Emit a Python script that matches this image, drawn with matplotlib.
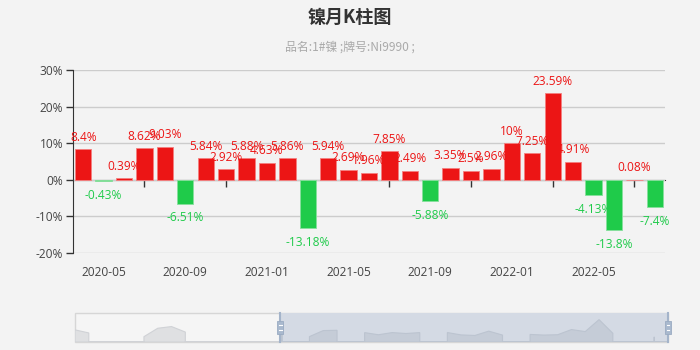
import numpy as np
import pandas as pd
import matplotlib
matplotlib.use('Agg')
import matplotlib.pyplot as plt
from matplotlib.patches import Polygon, Rectangle

plt.rcParams['font.family'] = ['Open Sans', 'Noto Sans CJK SC', 'DejaVu Sans']

# month axis, 2019-01 .. 2022-08
months = list(pd.period_range('2019-01', '2022-08', freq='M').strftime('%Y-%m'))

# rising months before the visible window (only used by the zoom slider shadow)
early_up = [9.6, 5.4, None, None, None, 0.3, 11.8, 14.1, 6.6,
            None, None, None, None, None, None]

# monthly change (%) for the visible window, 2020-04 .. 2022-08
change = [8.4, -0.43, 0.39, 8.62, 9.03, -6.51, 5.84, 2.92, 5.88, 4.63,
          5.86, -13.18, 5.94, 2.69, 1.96, 7.85, 2.49, -5.88, 3.35, 2.5,
          2.96, 10, 7.25, 23.59, 4.91, -4.13, -13.8, 0.08, -7.4]

title = '镍月K柱图'
subtitle = '品名:1#镍 ;牌号:Ni9990 ;'

RED = '#ec1515'
GREEN = '#1fcb4a'
BG = '#f3f3f3'

start = len(early_up)
shown = months[start:]
vals = np.array(change, dtype=float)
x = np.arange(len(vals))
up = vals >= 0

fig = plt.figure(figsize=(7, 3.5), dpi=100, facecolor=BG)
ax = fig.add_axes([73 / 700, 97 / 350, 592 / 700, 183 / 350])
ax.set_facecolor(BG)

ax.bar(x[up], vals[up], width=0.8, color=RED, edgecolor='#f47f7f', linewidth=0.6, zorder=2)
ax.bar(x[~up], vals[~up], width=0.8, color=GREEN, edgecolor='#86e09c', linewidth=0.6, zorder=2)

for xi, v in zip(x, vals):
    if v >= 0:
        ax.annotate(f'{v:g}%', (xi, v), xytext=(0, 4), textcoords='offset points',
                    ha='center', va='bottom', color=RED, fontsize=8.6, zorder=4)
    else:
        ax.annotate(f'{v:g}%', (xi, v), xytext=(0, -5.5), textcoords='offset points',
                    ha='center', va='top', color=GREEN, fontsize=8.6, zorder=4)

ax.set_xlim(-0.5, len(vals) - 0.5)
ax.set_ylim(-20, 30)
ax.set_yticks(range(-20, 31, 10))
ax.set_yticklabels([f'{t}%' for t in range(-20, 31, 10)])
ax.yaxis.grid(True, color='#cccccc', linewidth=1)
ax.set_axisbelow(True)
ax.tick_params(axis='y', length=5, width=1, color='#333333', labelcolor='#444444',
               labelsize=8.6, pad=2)

for s in ['top', 'right', 'bottom']:
    ax.spines[s].set_visible(False)
ax.spines['left'].set_color('#333333')

# month labels at the bottom, every fourth month
lab_pos = x[1::4]
ax.set_xticks(lab_pos)
ax.set_xticklabels([shown[i] for i in lab_pos])
ax.tick_params(axis='x', length=0, labelcolor='#444444', labelsize=8.6, pad=9)

# axis line on zero with its own tick marks
zero_ax = ax.secondary_xaxis(20 / 50)
zero_ax.set_xticks(x[3::4])
zero_ax.tick_params(axis='x', length=5, width=1, color='#333333', labelbottom=False)
zero_ax.spines['bottom'].set_color('#333333')
zero_ax.spines['bottom'].set_zorder(3)

fig.text(0.5, 1 - 17 / 350, title, ha='center', va='center', fontsize=13,
         fontweight='bold', color='#333333', family=['Noto Sans CJK SC'])
fig.text(0.5, 1 - 47 / 350, subtitle, ha='center', va='center', fontsize=8.6,
         color='#aaaaaa', family=['Noto Sans CJK SC', 'Open Sans'])

# zoom slider with data shadow of the rising series
full_up = early_up + [v if v >= 0 else None for v in change]
n = len(full_up)
sax = fig.add_axes([75 / 700, 8 / 350, 593 / 700, 29 / 350])
sax.set_xlim(0, n - 1)
sax.set_ylim(0, 1)
sax.axis('off')


def shadow_points(series):
    known = [v for v in series if v is not None]
    lo, hi = min(known), max(known)
    off = (hi - lo) * 0.3
    lo, hi = lo - off, hi + off
    pts = [(0, 0)]
    last_empty = False
    for i, v in enumerate(series):
        empty = v is None
        y = 0 if empty else (v - lo) / (hi - lo) * 0.95
        if empty and not last_empty and i:
            pts.append((pts[-1][0], 0))
        elif not empty and last_empty:
            pts.append((i, 0))
        pts.append((i, y))
        last_empty = empty
    pts.append((len(series) - 1, 0))
    return pts


pts = shadow_points(full_up)
sel0, sel1 = start - 0.1, n - 1

sax.add_patch(Rectangle((0, 0), n - 1, 1, facecolor='#f5f5f5', edgecolor='#d6d6d6',
                        linewidth=1, zorder=1, clip_on=False))
sax.add_patch(Rectangle((sel0, 0), sel1 - sel0, 1, facecolor='#d4dae4', edgecolor='none',
                        zorder=2, clip_on=False))

clip_a = Rectangle((0, 0), sel0, 1, transform=sax.transData)
clip_b = Rectangle((sel0, 0), sel1 - sel0, 1, transform=sax.transData)
p1 = Polygon(pts, closed=True, facecolor='#dfe0e2', edgecolor='#d0d2d6', linewidth=0.8, zorder=3)
p2 = Polygon(pts, closed=True, facecolor='#c5ccd7', edgecolor='#bcc4d0', linewidth=0.8, zorder=3)
sax.add_patch(p1)
sax.add_patch(p2)
p1.set_clip_path(clip_a)
p2.set_clip_path(clip_b)

hw = 3 / 13.8
for hx in (sel0, sel1):
    sax.plot([hx, hx], [0, 1], color='#a4b4ca', linewidth=1.5, zorder=4, clip_on=False)
    sax.add_patch(Rectangle((hx - hw, 0.28), 2 * hw, 0.44, facecolor='#a9b9ce',
                            edgecolor='#9aabc2', linewidth=0.6, zorder=5, clip_on=False))
    for hy in (0.43, 0.57):
        sax.plot([hx - hw * 0.5, hx + hw * 0.5], [hy, hy], color='white',
                 linewidth=0.8, zorder=6, clip_on=False)

fig.savefig('out.png', dpi=100, facecolor=BG)
